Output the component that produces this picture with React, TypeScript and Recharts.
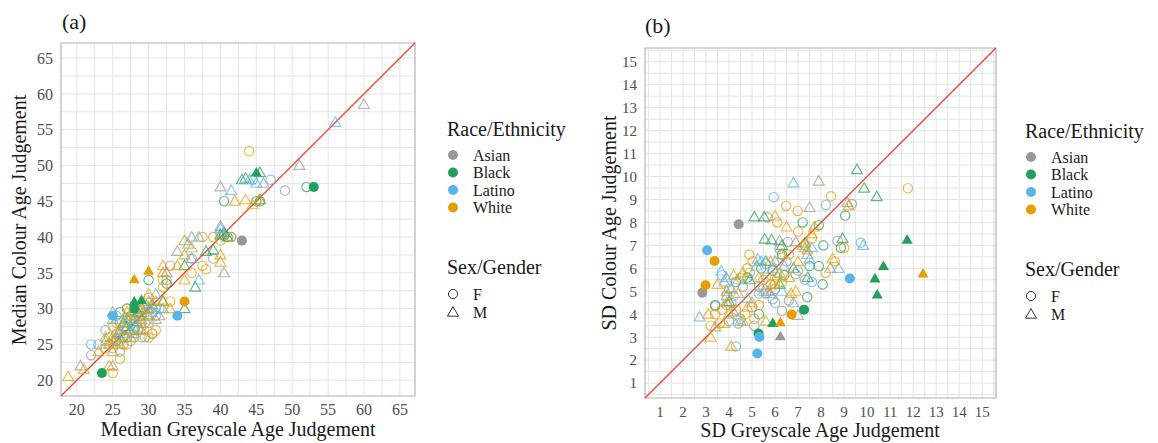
import React from 'react';
import { ScatterChart, Scatter, XAxis, YAxis, CartesianGrid, ReferenceLine, ReferenceArea } from 'recharts';

type Pt = [number, number];

const RACES = ['Asian', 'Black', 'Latino', 'White'];
const RACE_COLORS = ['#999999', '#21a05b', '#56b4e9', '#e69f00'];
const SEXES = ['F', 'M'];

// (a) median age judgements, greyscale (x) vs colour (y)
const aAsianF: Pt[] = [[49, 46.5], [39, 37], [33, 36], [32.5, 34], [31.5, 30], [30, 28], [29, 26], [28.5, 27], [27, 26], [26, 25.5], [22, 23.5], [29.5, 26], [30.5, 26.5], [31, 29], [28, 28.5], [27.5, 29], [36, 37], [26.5, 27.5], [29.5, 29.5]];
const aAsianM: Pt[] = [[60, 58.5], [51, 50], [46, 47.5], [40, 47], [40, 41.5], [40.5, 35], [36, 40], [34, 38], [32.5, 35], [31.5, 29], [30, 31], [29, 27], [27.5, 27], [25, 29.5], [25, 22], [20.5, 22], [26, 26.5], [29, 28.5], [31, 28.5]];
const aBlackF: Pt[] = [[52, 47], [40.5, 45], [45, 45], [45.5, 45], [41, 40], [40.5, 40.2], [30, 34], [27, 30], [27.5, 28.5], [29, 29], [28, 27], [26.5, 26], [25.5, 25.5], [32.5, 33.5], [26, 29.5]];
const aBlackM: Pt[] = [[45.5, 49], [43, 48], [43.5, 48.2], [45.5, 45.2], [40, 40.3], [40.5, 40.6], [38, 38], [39, 38.2], [35, 36], [36.5, 33], [35, 30], [32, 31], [28.5, 29.5], [27, 27.5], [26.5, 28], [41, 40], [30.5, 30.5]];
const aLatinoF: Pt[] = [[47, 48], [44.5, 48], [41.5, 40], [40, 40.5], [31, 30], [30.5, 29.5], [29, 28], [28, 27.5], [26, 28], [25.5, 29], [24, 27], [23, 25], [22, 25], [24.5, 25], [25, 24.5], [27, 26], [27.5, 25.5], [30, 29], [26, 24], [28.5, 27], [25.5, 26.5], [27, 28.5], [29.5, 30.5]];
const aLatinoM: Pt[] = [[56, 56], [41.5, 46.5], [44, 48], [45, 47.5], [40, 41.2], [37, 40], [35.5, 39], [36, 37], [37, 34], [31, 32], [30, 30], [27, 28], [28, 28.5], [25, 28.5], [25.5, 26], [26, 27], [29, 30], [32, 30], [24, 25.5], [28, 26.5]];
const aWhiteF: Pt[] = [[44, 52], [37.5, 40], [41.5, 40], [40, 39.5], [39, 40], [37.5, 36], [38, 35.5], [36, 35], [32, 34], [32, 33], [30, 31.5], [30, 30], [30.5, 26.5], [29.5, 28], [28, 29], [27, 30], [26.5, 27], [25.5, 28], [25, 27.5], [24.5, 26], [25, 21], [26, 23], [27, 25], [28, 26], [29, 27.5], [30, 26], [31, 27], [33, 31], [24, 24.5], [26.5, 25], [28.5, 30]];
const aWhiteM: Pt[] = [[42, 45], [43.5, 45.2], [44.5, 44.5], [45.5, 45.2], [40, 36.5], [40, 37.5], [35, 39.5], [35, 37.5], [35, 34], [32, 36], [32, 35], [30, 32], [32, 31], [33, 30], [29, 30], [28.5, 29], [27, 28.5], [26, 27], [25, 26], [24, 26], [24.5, 25], [25, 24], [26, 25], [24.5, 22], [18.8, 20.5], [21, 21.5], [23, 24], [27.5, 26], [29, 27], [31, 31], [34, 36], [36, 38.5], [25, 25.5], [27, 29.5], [30, 29]];

// (a) filled markers
const aAsianFSolid: Pt[] = [[43, 39.5]];
const aBlackFSolid: Pt[] = [[53, 47], [28, 30], [23.5, 21]];
const aBlackMSolid: Pt[] = [[45, 49], [28, 31], [29, 31.2]];
const aLatinoFSolid: Pt[] = [[25, 29], [34, 29]];
const aWhiteFSolid: Pt[] = [[35, 31]];
const aWhiteMSolid: Pt[] = [[28, 34.1], [30, 35.3]];

// (b) SD of age judgements
const bAsianF: Pt[] = [[9.34, 8.8], [8.72, 7.2], [6.55, 7.15], [5.68, 8.22], [6.9, 5.75], [5.3, 5.2], [5.9, 4.65], [6.3, 4.15], [6.6, 4.6], [4.6, 5.2], [4.1, 4.5], [3.9, 4.4], [5.1, 3.5], [4.9, 5.8], [6.2, 6.85], [5.6, 4.9], [7.0, 5.9], [3.4, 4.35], [4.4, 3.6], [6.0, 5.1], [5.0, 4.3], [7.3, 5.5]];
const bAsianM: Pt[] = [[7.9, 9.8], [9.15, 8.87], [7.5, 8.65], [6.2, 7.2], [6.9, 7.15], [3.4, 3.45], [4.2, 4.1], [5.8, 4.9], [6.8, 4.5], [7.0, 3.95], [8.4, 6.0], [5.7, 5.0], [7.4, 6.6], [3.9, 5.0], [6.4, 6.1]];
const bBlackF: Pt[] = [[9.05, 8.3], [7.2, 8.0], [7.9, 7.88], [8.07, 5.3], [8.86, 6.9], [8.1, 7.0], [7.4, 4.75], [7.5, 6.1], [4.8, 5.6], [3.4, 4.4], [5.9, 5.9], [4.3, 5.4], [6.3, 6.6], [7.9, 6.1], [5.3, 4.0], [6.4, 5.7], [5.4, 6.0]];
const bBlackM: Pt[] = [[9.56, 10.3], [9.87, 9.49], [10.42, 9.12], [5.1, 8.24], [5.53, 8.24], [5.55, 7.27], [5.85, 7.24], [8.93, 7.3], [7.42, 5.6], [6.3, 7.0], [4.9, 5.5], [4.0, 4.55], [6.2, 5.3], [5.6, 6.3], [6.8, 6.0], [7.3, 7.1]];
const bLatinoF: Pt[] = [[5.94, 9.1], [8.21, 8.76], [9.73, 7.12], [7.6, 5.4], [4.3, 2.6], [5.3, 4.9], [6.0, 4.5], [4.0, 3.7], [3.7, 5.7], [6.5, 6.3], [5.5, 5.5], [4.5, 3.8], [5.6, 6.2], [4.2, 4.8], [6.1, 5.8]];
const bLatinoM: Pt[] = [[6.8, 9.72], [9.83, 7.0], [7.3, 6.9], [8.76, 5.99], [2.72, 3.88], [3.66, 5.88], [3.88, 5.6], [5.25, 6.4], [5.4, 6.3], [4.1, 5.1], [3.9, 4.8], [6.0, 6.3], [5.9, 6.0], [7.5, 6.4], [4.8, 4.7], [3.8, 5.4], [5.5, 5.0], [4.5, 3.7], [7.6, 6.9], [6.3, 5.0], [4.4, 5.5], [5.2, 6.1]];
const bWhiteF: Pt[] = [[11.77, 9.49], [8.43, 9.14], [6.48, 8.73], [6.98, 8.5], [7.0, 7.6], [6.1, 8.0], [4.89, 6.6], [5.03, 6.3], [5.5, 5.1], [6.0, 5.3], [4.5, 5.6], [4.3, 4.2], [3.7, 4.2], [3.2, 3.5], [3.4, 4.0], [6.1, 5.6], [8.6, 6.3], [9.0, 6.9], [8.2, 5.8], [7.3, 7.0], [4.8, 6.0], [5.8, 5.3], [5.3, 4.4], [4.0, 5.1], [6.6, 6.6], [3.6, 3.6], [5.1, 3.8], [7.6, 7.3], [4.7, 4.0], [5.6, 5.6], [6.3, 5.4], [3.9, 4.8]];
const bWhiteM: Pt[] = [[9.2, 8.72], [6.0, 8.28], [6.5, 7.8], [7.6, 7.5], [7.2, 7.0], [8.5, 6.42], [6.7, 4.9], [3.2, 3.0], [4.1, 2.6], [3.5, 5.3], [4.2, 5.7], [4.6, 5.8], [5.9, 5.3], [6.2, 5.8], [5.0, 4.5], [4.0, 4.0], [3.1, 4.0], [6.9, 5.0], [7.0, 6.3], [5.6, 3.7], [4.6, 3.7], [7.7, 7.8], [5.8, 6.3], [6.3, 6.6], [7.4, 6.8], [3.9, 4.5], [4.4, 4.9], [3.8, 3.6], [5.3, 5.6], [6.6, 5.6], [4.8, 4.3]];

const bAsianFSolid: Pt[] = [[4.42, 7.92], [2.84, 4.94]];
const bAsianMSolid: Pt[] = [[6.23, 3.04]];
const bBlackFSolid: Pt[] = [[5.28, 3.16], [7.26, 4.2]];
const bBlackMSolid: Pt[] = [[5.9, 3.62], [10.34, 5.56], [10.44, 4.86], [10.71, 6.1], [11.74, 7.24]];
const bLatinoFSolid: Pt[] = [[3.05, 6.79], [5.32, 3.01], [5.23, 2.29], [9.25, 5.56]];
const bWhiteFSolid: Pt[] = [[3.37, 6.32], [2.98, 5.26], [6.72, 3.99]];
const bWhiteMSolid: Pt[] = [[6.23, 3.65], [12.43, 5.77]];

const aTicks = [20, 22.5, 25, 27.5, 30, 32.5, 35, 37.5, 40, 42.5, 45, 47.5, 50, 52.5, 55, 57.5, 60, 62.5, 65];
const bTicks = [0.5, 1, 1.5, 2, 2.5, 3, 3.5, 4, 4.5, 5, 5.5, 6, 6.5, 7, 7.5, 8, 8.5, 9, 9.5, 10, 10.5, 11, 11.5, 12, 12.5, 13, 13.5, 14, 14.5, 15, 15.5];

interface Group {
  race: number;
  sex: string;
  solid: boolean;
  pts: Pt[];
}

const aGroups: Group[] = [
  { race: 0, sex: 'F', solid: false, pts: aAsianF },
  { race: 0, sex: 'M', solid: false, pts: aAsianM },
  { race: 1, sex: 'F', solid: false, pts: aBlackF },
  { race: 1, sex: 'M', solid: false, pts: aBlackM },
  { race: 2, sex: 'F', solid: false, pts: aLatinoF },
  { race: 2, sex: 'M', solid: false, pts: aLatinoM },
  { race: 3, sex: 'F', solid: false, pts: aWhiteF },
  { race: 3, sex: 'M', solid: false, pts: aWhiteM },
  { race: 0, sex: 'F', solid: true, pts: aAsianFSolid },
  { race: 1, sex: 'F', solid: true, pts: aBlackFSolid },
  { race: 1, sex: 'M', solid: true, pts: aBlackMSolid },
  { race: 2, sex: 'F', solid: true, pts: aLatinoFSolid },
  { race: 3, sex: 'F', solid: true, pts: aWhiteFSolid },
  { race: 3, sex: 'M', solid: true, pts: aWhiteMSolid },
];

const bGroups: Group[] = [
  { race: 0, sex: 'F', solid: false, pts: bAsianF },
  { race: 0, sex: 'M', solid: false, pts: bAsianM },
  { race: 1, sex: 'F', solid: false, pts: bBlackF },
  { race: 1, sex: 'M', solid: false, pts: bBlackM },
  { race: 2, sex: 'F', solid: false, pts: bLatinoF },
  { race: 2, sex: 'M', solid: false, pts: bLatinoM },
  { race: 3, sex: 'F', solid: false, pts: bWhiteF },
  { race: 3, sex: 'M', solid: false, pts: bWhiteM },
  { race: 0, sex: 'F', solid: true, pts: bAsianFSolid },
  { race: 0, sex: 'M', solid: true, pts: bAsianMSolid },
  { race: 1, sex: 'F', solid: true, pts: bBlackFSolid },
  { race: 1, sex: 'M', solid: true, pts: bBlackMSolid },
  { race: 2, sex: 'F', solid: true, pts: bLatinoFSolid },
  { race: 3, sex: 'F', solid: true, pts: bWhiteFSolid },
  { race: 3, sex: 'M', solid: true, pts: bWhiteMSolid },
];

const SERIF = '"Liberation Serif", "Times New Roman", serif';

function triPoints(cx: number, cy: number, r: number) {
  return `${cx},${cy - r} ${cx - r * 0.866},${cy + r / 2} ${cx + r * 0.866},${cy + r / 2}`;
}

function makeShape(color: string, sex: string, solid: boolean) {
  return (props: any) => {
    const { cx, cy } = props;
    if (cx == null || cy == null) return <g />;
    if (sex === 'F') {
      return solid ? (
        <circle cx={cx} cy={cy} r={5} fill={color} />
      ) : (
        <circle cx={cx} cy={cy} r={4.7} fill="none" stroke={color} strokeWidth={1.15} strokeOpacity={0.72} />
      );
    }
    return solid ? (
      <polygon points={triPoints(cx, cy + 0.8, 6.4)} fill={color} />
    ) : (
      <polygon points={triPoints(cx, cy + 0.8, 6.3)} fill="none" stroke={color} strokeWidth={1.15} strokeOpacity={0.72} />
    );
  };
}

interface PanelProps {
  left: number;
  width: number;
  margin: { top: number; right: number; bottom: number; left: number };
  domain: [number, number];
  ticks: number[];
  isMajor: (v: number) => boolean;
  groups: Group[];
  fontSize: number;
}

function Panel({ left, width, margin, domain, ticks, isMajor, groups, fontSize }: PanelProps) {
  const tickStyle = { fill: '#4d4d4d', fontSize };
  const fmt = (v: number) => (isMajor(v) ? String(v) : '');
  return (
    <div style={{ position: 'absolute', left, top: 0, fontFamily: SERIF }}>
      <ScatterChart width={width} height={443} margin={margin} style={{ fontFamily: SERIF }}>
        <CartesianGrid stroke="#e4e4e4" strokeWidth={1} />
        <XAxis
          type="number"
          dataKey="x"
          domain={domain}
          allowDataOverflow
          ticks={ticks}
          interval={0}
          tickFormatter={fmt}
          axisLine={false}
          tickLine={false}
          tick={tickStyle}
          height={30}
        />
        <YAxis
          type="number"
          dataKey="y"
          domain={domain}
          allowDataOverflow
          ticks={ticks}
          interval={0}
          tickFormatter={fmt}
          axisLine={false}
          tickLine={false}
          tick={tickStyle}
          width={40}
        />
        <ReferenceArea x1={domain[0]} x2={domain[1]} y1={domain[0]} y2={domain[1]} fill="none" stroke="#bdbdbd" strokeWidth={1.2} ifOverflow="visible" />
        {groups.map((g, i) => (
          <Scatter
            key={i}
            data={g.pts.map(([x, y]) => ({ x, y }))}
            shape={makeShape(RACE_COLORS[g.race], g.sex, g.solid)}
            isAnimationActive={false}
          />
        ))}
        <ReferenceLine
          segment={[{ x: domain[0], y: domain[0] }, { x: domain[1], y: domain[1] }]}
          stroke="#f0402a"
          strokeWidth={1.3}
          ifOverflow="visible"
        />
      </ScatterChart>
    </div>
  );
}

function Legend({ dx, dy }: { dx: number; dy: number }) {
  const x0 = 447 + dx;
  const y0 = dy;
  return (
    <g fontFamily={SERIF}>
      <text x={x0} y={y0 + 136} fontSize={20} fill="#1a1a1a">Race/Ethnicity</text>
      {RACES.map((r, i) => (
        <g key={r}>
          <circle cx={x0 + 6} cy={y0 + 155 + i * 17.5} r={5} fill={RACE_COLORS[i]} />
          <text x={x0 + 26} y={y0 + 160.5 + i * 17.5} fontSize={16} fill="#1a1a1a">{r}</text>
        </g>
      ))}
      <text x={x0} y={y0 + 274} fontSize={20} fill="#1a1a1a">Sex/Gender</text>
      {SEXES.map((s, i) => (
        <g key={s}>
          {s === 'F' ? (
            <circle cx={x0 + 6} cy={y0 + 294 + i * 18} r={4.6} fill="none" stroke="#333" strokeWidth={1} />
          ) : (
            <polygon points={triPoints(x0 + 6, y0 + 295 + i * 18, 6.4)} fill="none" stroke="#333" strokeWidth={1} />
          )}
          <text x={x0 + 26} y={y0 + 299.5 + i * 18} fontSize={16} fill="#1a1a1a">{s}</text>
        </g>
      ))}
    </g>
  );
}

export default function App() {
  return (
    <div style={{ position: 'absolute', left: 0, top: 0, width: 1158, height: 443, background: '#fff', overflow: 'hidden', fontFamily: SERIF }}>
      <Panel
        left={0}
        width={430}
        margin={{ top: 43, right: 15, bottom: 17, left: 21 }}
        domain={[17.8, 67.1]}
        ticks={aTicks}
        isMajor={(v) => v % 5 === 0}
        groups={aGroups}
        fontSize={16}
      />
      <Panel
        left={590}
        width={420}
        margin={{ top: 48, right: 14, bottom: 15, left: 15 }}
        domain={[0.35, 15.6]}
        ticks={bTicks}
        isMajor={(v) => Number.isInteger(v) && v >= 1}
        groups={bGroups}
        fontSize={15}
      />
      <svg width={1158} height={443} style={{ position: 'absolute', left: 0, top: 0, pointerEvents: 'none' }}>
        <g fontFamily={SERIF} fill="#1a1a1a">
          <text x={62} y={29} fontSize={22}>(a)</text>
          <text x={645} y={33} fontSize={22}>(b)</text>
          <text x={238} y={436} fontSize={20} textAnchor="middle">Median Greyscale Age Judgement</text>
          <text x={820} y={437} fontSize={20} textAnchor="middle">SD Greyscale Age Judgement</text>
          <text transform="translate(26,220) rotate(-90)" fontSize={20} textAnchor="middle">Median Colour Age Judgement</text>
          <text transform="translate(616,223) rotate(-90)" fontSize={20} textAnchor="middle">SD Colour Age Judgement</text>
        </g>
        <Legend dx={0} dy={0} />
        <Legend dx={578} dy={2} />
      </svg>
    </div>
  );
}
